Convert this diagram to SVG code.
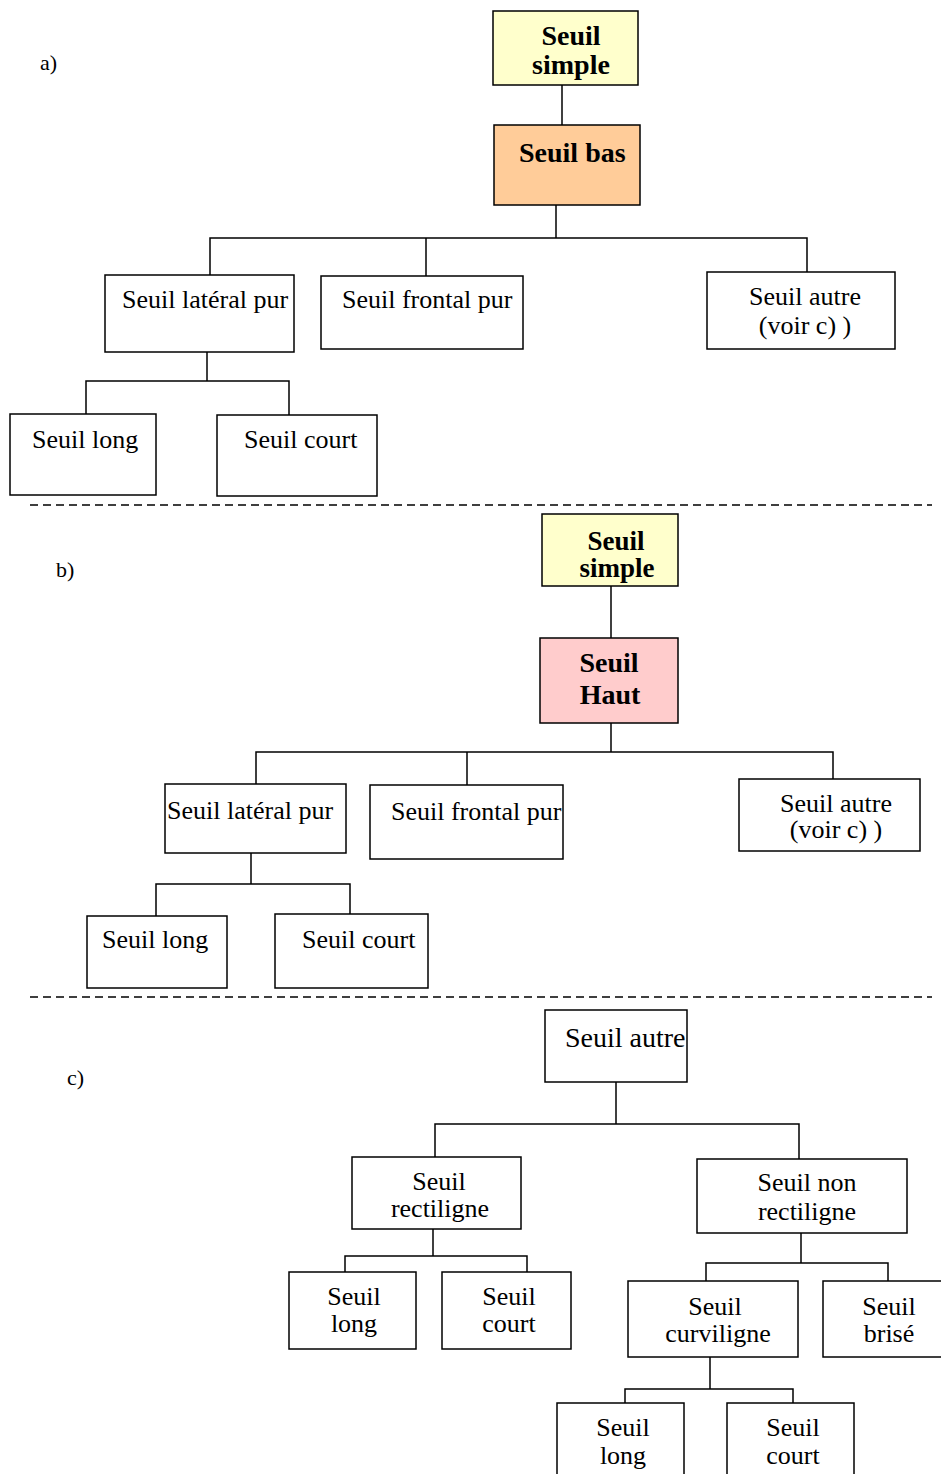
<svg xmlns="http://www.w3.org/2000/svg" width="941" height="1474" viewBox="0 0 941 1474">
  <style>
    .box { fill: #ffffff; stroke: #000000; stroke-width: 1.5; }
    .yellow { fill: #ffffcc; }
    .orange { fill: #ffcc99; }
    .pink { fill: #ffcccc; }
    text { fill: #000000; }
    .t { font-size: 26px; }
    .b { font-weight: bold; font-size: 28px; }
    .m { text-anchor: middle; }
    .lbl { font-size: 22px; }
    .conn line, .conn polyline { stroke: #000000; stroke-width: 1.5; fill: none; }
    .sep { stroke: #000000; stroke-width: 1.3; stroke-dasharray: 8 5; }
  </style>

  <g font-family="'Liberation Serif', serif">
  <!-- section labels -->
  <text class="lbl" x="40" y="70">a)</text>
  <text class="lbl" x="56" y="577">b)</text>
  <text class="lbl" x="67" y="1085">c)</text>

  <!-- separators -->
  <line class="sep" x1="30" y1="505" x2="932" y2="505"/>
  <line class="sep" x1="30" y1="997" x2="932" y2="997"/>

  <!-- connectors -->
  <g id="connectors" class="conn">
    <!-- a -->
    <line x1="562" y1="85" x2="562" y2="125"/>
    <line x1="556" y1="205" x2="556" y2="238"/>
    <polyline points="210,275 210,238 807,238 807,272"/>
    <line x1="426" y1="238" x2="426" y2="276"/>
    <line x1="207" y1="352" x2="207" y2="381"/>
    <polyline points="86,418 86,381 289,381 289,415"/>
    <!-- b -->
    <line x1="611" y1="586" x2="611" y2="638"/>
    <line x1="611" y1="723" x2="611" y2="752"/>
    <polyline points="256,786 256,752 833,752 833,779"/>
    <line x1="467" y1="752" x2="467" y2="785"/>
    <line x1="251" y1="853" x2="251" y2="884"/>
    <polyline points="156,916 156,884 350,884 350,914"/>
    <!-- c -->
    <line x1="616" y1="1082" x2="616" y2="1124"/>
    <polyline points="435,1157 435,1124 799,1124 799,1159"/>
    <line x1="433" y1="1229" x2="433" y2="1256"/>
    <polyline points="345,1272 345,1256 527,1256 527,1272"/>
    <line x1="801" y1="1233" x2="801" y2="1263"/>
    <polyline points="706,1281 706,1263 888,1263 888,1281"/>
    <line x1="710" y1="1357" x2="710" y2="1389"/>
    <polyline points="625,1404 625,1389 793,1389 793,1403"/>
  </g>

  <!-- a) Seuil simple / Seuil bas -->
  <g id="a-simple">
    <rect class="box yellow" x="493" y="11" width="145" height="74"/>
    <text class="t b m" x="571" y="45">Seuil</text>
    <text class="t b m" x="571" y="74">simple</text>
  </g>
  <g id="a-bas">
    <rect class="box orange" x="494" y="125" width="146" height="80"/>
    <text class="t b" x="519" y="162">Seuil bas</text>
  </g>
  <g id="a-lateral">
    <rect class="box" x="105" y="275" width="189" height="77"/>
    <text class="t" x="122" y="308">Seuil latéral pur</text>
  </g>
  <g id="a-frontal">
    <rect class="box" x="321" y="276" width="202" height="73"/>
    <text class="t" x="342" y="308">Seuil frontal pur</text>
  </g>
  <g id="a-autre">
    <rect class="box" x="707" y="272" width="188" height="77"/>
    <text class="t m" x="805" y="305">Seuil autre</text>
    <text class="t m" x="805" y="334">(voir c) )</text>
  </g>
  <g id="a-long">
    <rect class="box" x="10" y="414" width="146" height="81"/>
    <text class="t" x="32" y="448">Seuil long</text>
  </g>
  <g id="a-court">
    <rect class="box" x="217" y="415" width="160" height="81"/>
    <text class="t" x="244" y="448">Seuil court</text>
  </g>

  <!-- b) Seuil simple / Seuil Haut -->
  <g id="b-simple">
    <rect class="box yellow" x="542" y="514" width="136" height="72"/>
    <text class="t b m" x="616" y="550" style="font-size:27px">Seuil</text>
    <text class="t b m" x="617" y="577" style="font-size:27px">simple</text>
  </g>
  <g id="b-haut">
    <rect class="box pink" x="540" y="638" width="138" height="85"/>
    <text class="t b m" x="609" y="672">Seuil</text>
    <text class="t b m" x="610" y="704">Haut</text>
  </g>
  <g id="b-lateral">
    <rect class="box" x="165" y="784" width="181" height="69"/>
    <text class="t" x="167" y="819">Seuil latéral pur</text>
  </g>
  <g id="b-frontal">
    <rect class="box" x="370" y="785" width="193" height="74"/>
    <text class="t" x="391" y="820">Seuil frontal pur</text>
  </g>
  <g id="b-autre">
    <rect class="box" x="739" y="779" width="181" height="72"/>
    <text class="t m" x="836" y="812">Seuil autre</text>
    <text class="t m" x="836" y="838">(voir c) )</text>
  </g>
  <g id="b-long">
    <rect class="box" x="87" y="916" width="140" height="72"/>
    <text class="t" x="102" y="948">Seuil long</text>
  </g>
  <g id="b-court">
    <rect class="box" x="275" y="914" width="153" height="74"/>
    <text class="t" x="302" y="948">Seuil court</text>
  </g>

  <!-- c) Seuil autre breakdown -->
  <g id="c-autre">
    <rect class="box" x="545" y="1010" width="142" height="72"/>
    <text class="t" x="565" y="1047" style="font-size:28px">Seuil autre</text>
  </g>
  <g id="c-rectiligne">
    <rect class="box" x="352" y="1157" width="169" height="72"/>
    <text class="t m" x="439" y="1190">Seuil</text>
    <text class="t m" x="440" y="1217">rectiligne</text>
  </g>
  <g id="c-non-rectiligne">
    <rect class="box" x="697" y="1159" width="210" height="74"/>
    <text class="t m" x="807" y="1191">Seuil non</text>
    <text class="t m" x="807" y="1220">rectiligne</text>
  </g>
  <g id="c-rect-long">
    <rect class="box" x="289" y="1272" width="127" height="77"/>
    <text class="t m" x="354" y="1305">Seuil</text>
    <text class="t m" x="354" y="1332">long</text>
  </g>
  <g id="c-rect-court">
    <rect class="box" x="442" y="1272" width="129" height="77"/>
    <text class="t m" x="509" y="1305">Seuil</text>
    <text class="t m" x="509" y="1332">court</text>
  </g>
  <g id="c-curviligne">
    <rect class="box" x="628" y="1281" width="170" height="76"/>
    <text class="t m" x="715" y="1315">Seuil</text>
    <text class="t m" x="718" y="1342">curviligne</text>
  </g>
  <g id="c-brise">
    <rect class="box" x="823" y="1281" width="125" height="76"/>
    <text class="t m" x="889" y="1315">Seuil</text>
    <text class="t m" x="889" y="1342">brisé</text>
  </g>
  <g id="c-curv-long">
    <rect class="box" x="557" y="1403" width="127" height="80"/>
    <text class="t m" x="623" y="1436">Seuil</text>
    <text class="t m" x="623" y="1464">long</text>
  </g>
  <g id="c-curv-court">
    <rect class="box" x="727" y="1403" width="127" height="80"/>
    <text class="t m" x="793" y="1436">Seuil</text>
    <text class="t m" x="793" y="1464">court</text>
  </g>
  </g>
</svg>
